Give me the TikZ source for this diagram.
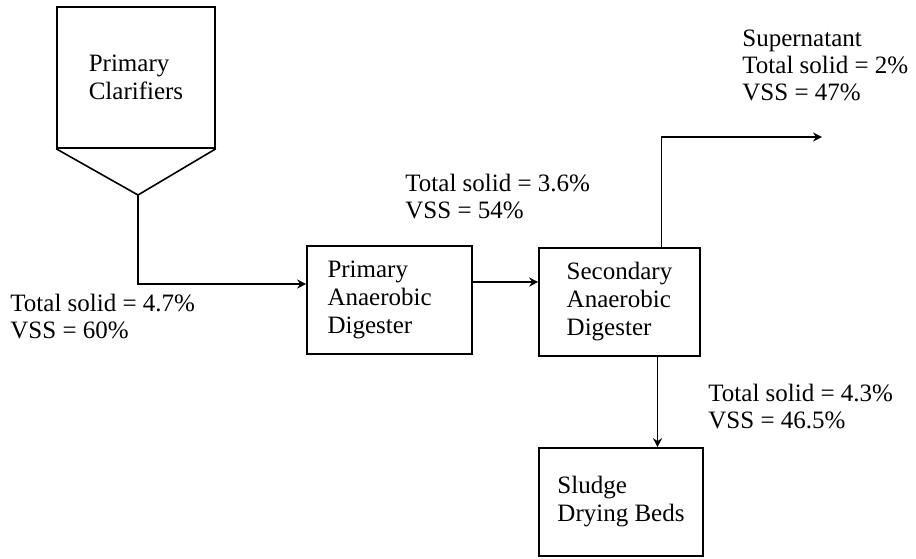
\documentclass[tikz,border=0pt]{standalone}
\usepackage{fontspec}
\setmainfont{Liberation Serif}
\usetikzlibrary{arrows.meta,positioning,calc}

\begin{document}
\begin{tikzpicture}[
        x=0.5pt, y=-0.5pt,
        box/.style={rectangle, draw, line width=0.8pt, align=left, font=\fontsize{12.5}{14}\selectfont},
        label/.style={anchor=west, inner sep=0pt, align=left, font=\fontsize{12.5}{13.5}\selectfont},
        arrow/.style={-{Stealth[length=4.5pt,width=4.5pt]}, line width=0.8pt}
    ]
        \useasboundingbox (0,0) rectangle (916,558);

        \node[box, minimum width=79pt, minimum height=70.5pt] (clar) at (136,77.5) {Primary\\Clarifiers};
        \coordinate (apex) at (138,195);
        \node[box, minimum width=82.5pt, minimum height=54pt, text width=62pt] (prim) at (389.5,300) {Primary\\Anaerobic\\Digester};
        \node[box, minimum width=80.5pt, minimum height=54pt] (sec) at (619.5,302) {Secondary\\Anaerobic\\Digester};
        \node[box, minimum width=82pt, minimum height=54pt] (beds) at (621,502) {Sludge\\Drying Beds};
        \coordinate (superout) at (822,137);

        \node[label] (feed) at (10,317) {Total solid = 4.7\%\\VSS = 60\%};
        \node[label] (digout) at (405,197) {Total solid = 3.6\%\\VSS = 54\%};
        \node[label] (super) at (742,65) {Supernatant\\Total solid = 2\%\\VSS = 47\%};
        \node[label] (sludge) at (708,407) {Total solid = 4.3\%\\VSS = 46.5\%};

        \draw[line width=0.8pt] (clar.south west) -- (apex) -- (clar.south east);
        \draw[arrow] (apex) |- ([yshift=8pt]prim.west);
        \draw[arrow] ([yshift=9pt]prim.east) -- ([yshift=9pt]prim.east -| sec.west);
        \draw[arrow] ([xshift=21pt]sec.north) |- (superout);
        \draw[arrow] ([xshift=19pt]sec.south) -- ([xshift=19pt]sec.south |- beds.north);
    \end{tikzpicture}
\end{document}
